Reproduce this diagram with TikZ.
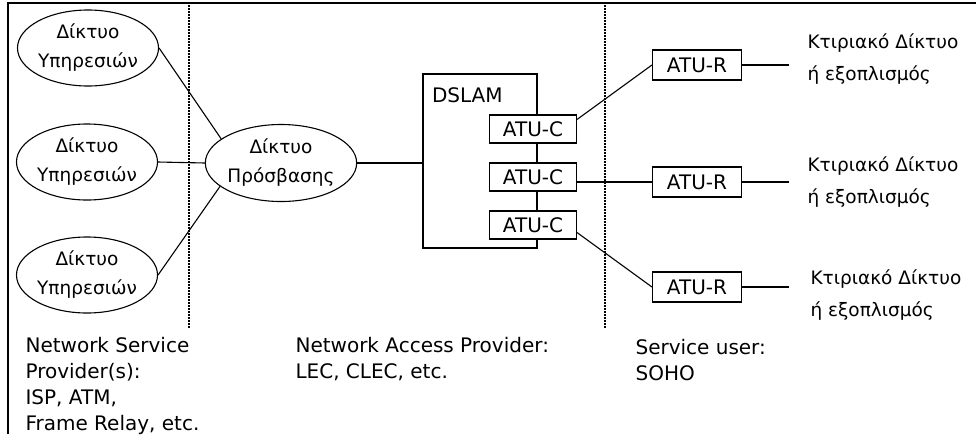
\documentclass[tikz,border=0pt]{standalone}
\usepackage{fontspec}
\setmainfont{DejaVu Sans}
\usetikzlibrary{shapes.geometric}

\begin{document}
\begin{tikzpicture}[x=1pt,y=-1pt,line width=1.1pt,
    net/.style={draw,ellipse,minimum width=130pt,minimum height=76pt,inner sep=0pt,align=center,font=\fontsize{18.5}{29}\selectfont},
    atu/.style={draw,fill=white,rectangle,inner sep=0pt,font=\fontsize{20}{24}\selectfont},
    txt/.style={anchor=base west,inner sep=0pt,align=left,font=\fontsize{20}{26}\selectfont},
    gtxt/.style={anchor=base west,inner sep=0pt,align=left,font=\fontsize{18.5}{32}\selectfont},
    divider/.style={dash pattern=on 1.5pt off 1.5pt,line width=1.4pt}]

    \useasboundingbox (0,0) rectangle (976,434);

    % frame and the dotted dividers
    \draw[line width=2.5pt] (8,434) -- (8,3) -- (976,3);
    \draw[divider] (189,5) -- (189,328);
    \draw[divider] (605,5) -- (605,328);

    % these are the networks
    \node[net] (srv1) at (88,48) {Δίκτυο\\Υπηρεσιών};
    \node[net] (srv2) at (87,162) {Δίκτυο\\Υπηρεσιών};
    \node[net] (srv3) at (87,275) {Δίκτυο\\Υπηρεσιών};
    \node[net,minimum width=128pt,minimum height=77pt] (acc) at (281,163) {Δίκτυο\\Πρόσβασης};

    % the DSLAM and its ATU-C cards
    \node[draw,rectangle,minimum width=114pt,minimum height=174pt,inner sep=0pt] (dslam) at (480,161) {};
    \node[anchor=base west,inner sep=0pt,font=\fontsize{20}{24}\selectfont] (dslamlbl) at ([xshift=9pt,yshift=-29pt]dslam.north west) {DSLAM};
    \node[atu,minimum width=87pt,minimum height=28pt] (atuc1) at (533,129) {ATU-C};
    \node[atu,minimum width=87pt,minimum height=28pt] (atuc2) at (533,177) {ATU-C};
    \node[atu,minimum width=87pt,minimum height=28pt] (atuc3) at (533,225) {ATU-C};

    % the ATU-R units at the user side
    \node[atu,minimum width=89pt,minimum height=30pt] (atur1) at (697,65) {ATU-R};
    \node[atu,minimum width=89pt,minimum height=30pt] (atur2) at (697,182) {ATU-R};
    \node[atu,minimum width=89pt,minimum height=30pt] (atur3) at (697,287) {ATU-R};
    \coordinate (end1) at (789,65);
    \coordinate (end2) at (789,182);
    \coordinate (end3) at (789,287);

    \draw (srv1.east) -- (acc.158);
    \draw (srv2.east) -- (acc.west);
    \draw (srv3.east) -- (acc.201);
    \draw (acc.east) -- (acc.east -| dslam.west);
    \draw ([yshift=-5pt]atuc1.north east) -- (atur1.west);
    \draw (atur2.west -| atuc2.east) -- (atur2.west);
    \draw ([yshift=7pt]atuc3.south east) -- (atur3.west);
    \draw (atur1.east) -- (end1);
    \draw (atur2.east) -- (end2);
    \draw (atur3.east) -- (end3);

    % texts (placed at the baseline of their last line)
    \node[gtxt] (prem1) at (807,80) {Κτιριακό Δίκτυο\\ή εξοπλισμός};
    \node[gtxt] (prem2) at (807,203) {Κτιριακό Δίκτυο\\ή εξοπλισμός};
    \node[gtxt] (prem3) at (810,316) {Κτιριακό Δίκτυο\\ή εξοπλισμός};
    \node[txt] (nsp) at (25,430) {Network Service\\Provider(s):\\ISP, ATM,\\Frame Relay, etc.};
    \node[txt] (nap) at (295,378) {Network Access Provider:\\LEC, CLEC, etc.};
    \node[txt] (user) at (635,380) {Service user:\\SOHO};

\end{tikzpicture}
\end{document}
